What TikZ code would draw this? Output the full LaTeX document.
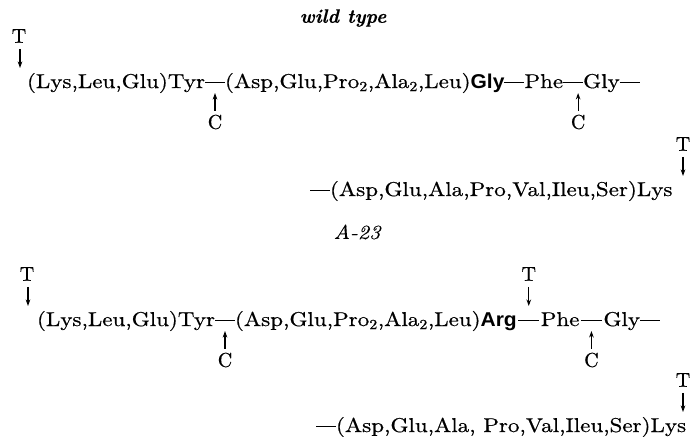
\documentclass[tikz,border=0pt]{standalone}
\usepackage{fontspec}
\usetikzlibrary{arrows.meta,calc}

% wide Schoolbook-like setting of the sequence text
\newfontfamily\seqfont{lmroman10-regular.otf}[FakeStretch=1.15, FakeBold=0.6]
\newfontfamily\seqital{lmroman10-italic.otf}[FakeStretch=1.1, FakeBold=0.4]
\newfontfamily\headfont{lmroman10-bolditalic.otf}[FakeBold=0.4]
\newfontfamily\markfont{lmroman10-regular.otf}[FakeBold=0.6]
% bold grotesque residue names
\newfontfamily\heavyfont{Liberation Sans}[FakeStretch=1.05]
\newcommand{\heavy}[1]{{\heavyfont\bfseries #1}}
% peptide bond dash
\newcommand{\bond}[1][20pt]{\rule[5pt]{#1}{1.3pt}}

\tikzset{
  seg/.style={anchor=base west, inner sep=0pt, outer sep=0pt,
              font=\seqfont\fontsize{20}{23}\selectfont},
  cut/.style={inner sep=0pt, outer sep=0pt, font=\markfont\fontsize{20}{23}\selectfont},
  arr/.style={line width=1.1pt, -{Stealth[length=6.5pt,width=4.6pt]}},
  headline/.style={inner sep=0pt, font=\headfont\fontsize{19.5}{23}\selectfont},
  subhead/.style={inner sep=0pt, font=\seqital\fontsize{20}{23}\selectfont},
}

\begin{document}
\begin{tikzpicture}[x=1pt, y=-1pt]
\useasboundingbox (0,0) rectangle (692,436);

% ---------------- wild type ----------------
\node[headline] (ttl) at (343,18) {wild type};

\node[seg] (a1)  at (27,88)         {(Lys,Leu,Glu)Tyr};
\node[seg] (a1d) at (a1.base east)  {\bond};
\node[seg] (a2)  at (a1d.base east) {(Asp,Glu,Pro\textsubscript{2},Ala\textsubscript{2},Leu)\heavy{Gly}};
\node[seg] (a2d) at (a2.base east)  {\bond};
\node[seg] (a3)  at (a2d.base east) {Phe};
\node[seg] (a3d) at (a3.base east)  {\bond};
\node[seg] (a4)  at (a3d.base east) {Gly};
\node[seg] (a4d) at (a4.base east)  {\bond};

\node[seg] (b0)  at (310,196)       {\bond};
\node[seg] (b1)  at (b0.base east)  {(Asp,Glu,Ala,Pro,Val,Ileu,Ser)Lys};

% trypsin sites
\coordinate (t1tip) at ($(a1.base west)+(-7,-20)$);
\node[cut] (t1) at ($(t1tip)+(-1,-32)$) {T};
\draw[arr, shorten <=6pt] (t1.south -| t1tip) -- (t1tip);

\coordinate (t2tip) at ($(b1.base west -| 683,0)+(0,-20)$);
\node[cut] (t2) at ($(t2tip)+(0,-32)$) {T};
\draw[arr, shorten <=6pt] (t2) -- (t2tip);

% chymotrypsin sites
\node[cut] (c1) at ($(a1d.base)+(0,34)$) {C};
\draw[arr, shorten <=4pt, shorten >=5pt] (c1) -- (a1d.base);
\node[cut] (c2) at ($(a3d.base)+(5,34)$) {C};
\draw[arr, shorten <=4pt, shorten >=5pt] (c2) -- (c2 |- a3d.base);

% ---------------- A-23 ----------------
\node[subhead] (mut) at (357,232) {A-23};

\node[seg] (e1)  at (37,326)                    {(Lys,Leu,Glu)Tyr};
\node[seg] (e1d) at (e1.base east)              {\bond};
\node[seg] (e2)  at (e1d.base east)             {(Asp,Glu,Pro\textsubscript{2},Ala\textsubscript{2},Leu)\heavy{Arg}};
\node[seg] (e2d) at ($(e2.base east)+(1.5,0)$)  {\bond[21pt]};
\node[seg] (e3)  at ($(e2d.base east)+(1.5,0)$) {Phe};
\node[seg] (e3d) at ($(e3.base east)+(1.5,0)$)  {\bond[21pt]};
\node[seg] (e4)  at ($(e3d.base east)+(1.5,0)$) {Gly};
\node[seg] (e4d) at (e4.base east)              {\bond};

\node[seg] (f0)  at (316,432)       {\bond};
\node[seg] (f1)  at (f0.base east)  {(Asp,Glu,Ala, Pro,Val,Ileu,Ser)Lys};

% trypsin sites
\coordinate (t3tip) at ($(e1.base west)+(-9,-20)$);
\node[cut] (t3) at ($(t3tip)+(-1,-32)$) {T};
\draw[arr, shorten <=6pt] (t3.south -| t3tip) -- (t3tip);

\node[cut] (t4) at ($(e2d.base)+(0,-52)$) {T};
\draw[arr, shorten <=6pt, shorten >=20pt] (t4) -- (e2d.base);

\coordinate (t5tip) at ($(f1.base west -| 683,0)+(0,-20)$);
\node[cut] (t5) at ($(t5tip)+(0,-32)$) {T};
\draw[arr, shorten <=6pt] (t5) -- (t5tip);

% chymotrypsin sites
\node[cut] (c3) at ($(e1d.base)+(0,34)$) {C};
\draw[arr, shorten <=4pt, shorten >=5pt] (c3) -- (e1d.base);
\node[cut] (c4) at ($(e3d.base)+(0,34)$) {C};
\draw[arr, shorten <=4pt, shorten >=5pt] (c4) -- (e3d.base);
\end{tikzpicture}
\end{document}
